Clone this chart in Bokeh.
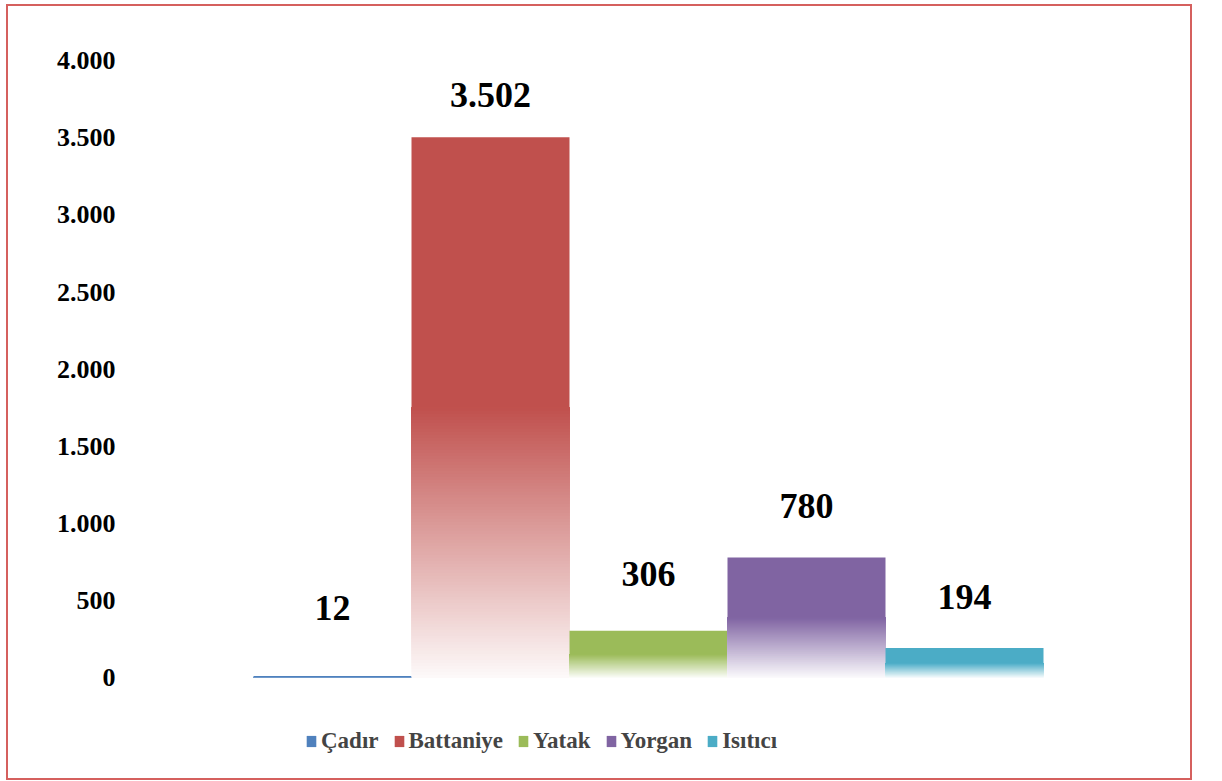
from bokeh.plotting import figure
from bokeh.models import ColumnDataSource, Legend, LegendItem, Range1d, FixedTicker, CustomJSTickFormatter
from bokeh.core.properties import value
from bokeh.embed import file_html
from bokeh.resources import INLINE

# ---- data ----
categories = ["Çadır", "Battaniye", "Yatak", "Yorgan", "Isıtıcı"]
values = [12, 3502, 306, 780, 194]
labels = ["12", "3.502", "306", "780", "194"]
colors = ["#4F81BD", "#C0504D", "#9BBB59", "#8064A2", "#4BACC6"]
y_ticks = [0, 500, 1000, 1500, 2000, 2500, 3000, 3500, 4000]
y_tick_labels = ["0", "500", "1.000", "1.500", "2.000", "2.500", "3.000", "3.500", "4.000"]
label_offsets = [68, 42, 57, 52, 51]  # px above bar top

FONT = "Liberation Serif"

x_start = -0.5 - 128 / 158
x_end = x_start + 1045 / 158

p = figure(width=1186, height=776, output_backend="svg", toolbar_location=None,
           x_range=Range1d(x_start, x_end), y_range=Range1d(-600, 4000),
           min_border_left=117, min_border_right=24, min_border_top=54, min_border_bottom=12)
p.styles = {"border": "2px solid #D5605E", "box-sizing": "border-box",
            "margin-left": "6px", "margin-top": "4px"}
p.outline_line_color = None
p.grid.grid_line_color = None
p.xaxis.visible = False

ya = p.yaxis[0]
ya.ticker = FixedTicker(ticks=y_ticks)
ya.formatter = CustomJSTickFormatter(args=dict(t=y_ticks, l=y_tick_labels),
                                     code="const i = t.indexOf(tick); return i >= 0 ? l[i] : '';")
ya.axis_line_color = None
ya.major_tick_line_color = None
ya.minor_tick_line_color = None
ya.major_label_standoff = 4
ya.major_label_text_font = FONT
ya.major_label_text_font_style = "bold"
ya.major_label_text_font_size = "26px"
ya.major_label_text_color = "#000000"


def mix(hexc, m):
    r, g, b = int(hexc[1:3], 16), int(hexc[3:5], 16), int(hexc[5:7], 16)
    f = lambda c: int(round(c * m + 255 * (1 - m)))
    return "#%02x%02x%02x" % (f(r), f(g), f(b))

N = 90
items = []
for i, (cat, v, c) in enumerate(zip(categories, values, colors)):
    # fading lower half: each strip reaches up to the half-way mark and is
    # over-painted by the next one, so no seams can appear
    lefts, rights, bots, tops, cols = [], [], [], [], []
    for k in range(N):
        lefts.append(i - 0.5)
        rights.append(i + 0.5)
        bots.append(v / 2 * k / N)
        tops.append(v / 2)
        cols.append(mix(c, 0.03 + 0.97 * (k + 0.5) / N))
    p.quad(left=lefts, right=rights, bottom=bots, top=tops, fill_color=cols, line_color=None)
    # solid upper half
    src = ColumnDataSource(dict(left=[i - 0.5], right=[i + 0.5], bottom=[v / 2], top=[v]))
    r = p.quad(left="left", right="right", bottom="bottom", top="top", source=src,
               fill_color=c, line_color=None)
    items.append(LegendItem(label=cat, renderers=[r]))

# data labels
lsrc = ColumnDataSource(dict(x=list(range(len(values))), y=values, t=labels,
                             off=[-o for o in label_offsets]))
p.text(x="x", y="y", text="t", y_offset="off", source=lsrc, text_align="center",
       text_baseline="middle", text_font=value(FONT), text_font_style="bold",
       text_font_size="36px", text_color="#000000")

legend = Legend(items=items, orientation="horizontal", location=(180, 16),
                label_text_font=FONT, label_text_font_style="bold", label_text_font_size="23px",
                glyph_width=12, glyph_height=14, label_standoff=4, spacing=14, padding=2,
                border_line_color=None, background_fill_alpha=0, margin=0)
p.add_layout(legend, "center")

open("out.html", "w").write(file_html(p, INLINE))
